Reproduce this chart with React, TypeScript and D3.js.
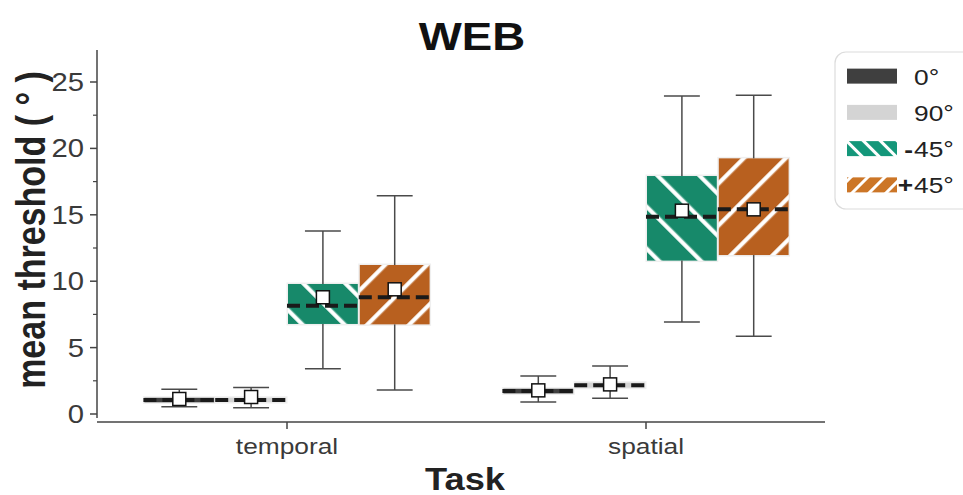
import React from 'react';
import * as d3 from 'd3';

// data
const tasks = ['temporal', 'spatial'];
const conditions = ['0°', '90°', '-45°', '+45°'];
const yTicks = [0, 5, 10, 15, 20, 25];
const yMinorTicks = [2.5, 7.5, 12.5, 17.5, 22.5];

// per task, per condition
const whiskerLow = [[0.55, 0.47, 3.41, 1.81], [0.9, 1.18, 6.93, 5.85]];
const q1 = [[0.88, 0.9, 6.78, 6.75], [1.55, 1.98, 11.55, 11.97]];
const medians = [[1.05, 1.05, 8.16, 8.79], [1.73, 2.16, 14.86, 15.41]];
const q3 = [[1.22, 1.22, 9.79, 11.22], [1.9, 2.36, 17.92, 19.25]];
const whiskerHigh = [[1.86, 2.0, 13.78, 16.44], [2.86, 3.61, 23.95, 24.0]];
const means = [[1.13, 1.28, 8.79, 9.39], [1.78, 2.23, 15.31, 15.41]];

const boxColors = ['#404040', '#d3d3d3', '#17896a', '#b8601f'];
const legendColors = ['#3f3f3f', '#d4d4d4', '#14977a', '#cc7627'];
const hatch = [null, null, -45, 45];

const SX = 1.17; // the picture is a bit wider than tall

export default function App() {
  const y = d3.scaleLinear().domain([0, 25]).range([414, 82]);
  const x = d3.scaleBand().domain(tasks).range([107.5, 825.5]);
  const inner = d3.scaleBand().domain(conditions)
    .range([x.bandwidth() * 0.1, x.bandwidth() * 0.9]);
  const bw = inner.bandwidth();

  const legendY = d3.scaleBand().domain(conditions).range([58, 203]);

  return (
    <svg width={963} height={495} style={{ position: 'absolute', left: 0, top: 0 }}
      fontFamily="'Liberation Sans', Arial, sans-serif">
      <defs>
        {hatch.map((angle, i) => angle === null ? null : (
          <pattern key={i} id={`hatch${i}`} patternUnits="userSpaceOnUse"
            width={29.7} height={29.7} patternTransform={`rotate(${angle})`}>
            <rect x={0} y={0} width={29.7} height={29.7} fill={boxColors[i]} />
            <rect x={12} y={0} width={4.2} height={29.7} fill="#fff" />
          </pattern>
        ))}
        {hatch.map((angle, i) => angle === null ? null : (
          <pattern key={'l' + i} id={`lhatch${i}`} patternUnits="userSpaceOnUse"
            width={12} height={12} patternTransform={`translate(2,0) rotate(${angle})`}>
            <rect x={0} y={0} width={12} height={12} fill={legendColors[i]} />
            <rect x={4} y={0} width={3} height={12} fill="#fff" />
          </pattern>
        ))}
      </defs>

      <rect width={963} height={495} fill="#fff" />

      {/* title */}
      <text transform={`translate(472,50) scale(${SX},1)`} textAnchor="middle"
        fontSize={39} fontWeight="bold" fill="#111">WEB</text>

      {/* y axis */}
      <line x1={97} x2={97} y1={50} y2={418} stroke="#444" strokeWidth={1.5} />
      {yTicks.map(t => (
        <g key={t}>
          <line x1={90} x2={97} y1={y(t)} y2={y(t)} stroke="#444" strokeWidth={1.5} />
          <text transform={`translate(84,${y(t) + 9}) scale(${SX},1)`} textAnchor="end"
            fontSize={25} fill="#3a3a3a">{t}</text>
        </g>
      ))}
      {yMinorTicks.map(t => (
        <line key={t} x1={93} x2={97} y1={y(t)} y2={y(t)} stroke="#444" strokeWidth={1.2} />
      ))}
      <text transform={`translate(45,${230}) scale(${SX},1) rotate(-90)`} textAnchor="middle"
        fontSize={34} fontWeight="bold" fill="#222">mean threshold ( ° )</text>

      {/* x axis */}
      <line x1={97} x2={825} y1={422} y2={422} stroke="#444" strokeWidth={1.5} />
      {tasks.map(t => {
        const cx = x(t)! + x.bandwidth() / 2;
        return (
          <g key={t}>
            <line x1={cx} x2={cx} y1={422} y2={429} stroke="#444" strokeWidth={1.5} />
            <text transform={`translate(${cx},454) scale(${SX},1)`} textAnchor="middle"
              fontSize={22.5} fill="#3a3a3a">{t}</text>
          </g>
        );
      })}
      <text transform={`translate(465,490) scale(${SX},1)`} textAnchor="middle"
        fontSize={31} fontWeight="bold" fill="#222">Task</text>

      {/* boxes */}
      {tasks.map((t, ti) => conditions.map((c, ci) => {
        const left = x(t)! + inner(c)!;
        const cx = left + bw / 2;
        const top = y(q3[ti][ci]);
        const bot = y(q1[ti][ci]);
        const fill = hatch[ci] === null ? boxColors[ci] : `url(#hatch${ci})`;
        return (
          <g key={t + c}>
            <rect x={left + 1} y={top} width={bw - 2} height={bot - top}
              fill={fill} stroke="#efefef" strokeWidth={3} paintOrder="stroke" />
            <line x1={cx} x2={cx} y1={top} y2={y(whiskerHigh[ti][ci])} stroke="#4a4a4a" strokeWidth={1.5} />
            <line x1={cx} x2={cx} y1={bot} y2={y(whiskerLow[ti][ci])} stroke="#4a4a4a" strokeWidth={1.5} />
            <line x1={cx - bw / 4} x2={cx + bw / 4} y1={y(whiskerHigh[ti][ci])} y2={y(whiskerHigh[ti][ci])}
              stroke="#4a4a4a" strokeWidth={1.5} />
            <line x1={cx - bw / 4} x2={cx + bw / 4} y1={y(whiskerLow[ti][ci])} y2={y(whiskerLow[ti][ci])}
              stroke="#4a4a4a" strokeWidth={1.5} />
            <line x1={left} x2={left + bw} y1={y(medians[ti][ci])} y2={y(medians[ti][ci])}
              stroke="#1a1a1a" strokeWidth={4} strokeDasharray="13 6" />
            <rect x={cx - 6.5} y={y(means[ti][ci]) - 6.5} width={13} height={13}
              fill="#fff" stroke="#111" strokeWidth={1.5} />
          </g>
        );
      }))}

      {/* legend */}
      <rect x={835} y={52} width={150} height={157} rx={11} fill="#fff" stroke="#dcdcdc" strokeWidth={1.2} />
      {conditions.map((c, ci) => {
        const cy = legendY(c)! + legendY.bandwidth() / 2;
        const sign = /^[-+]/.test(c) ? c[0] : '';
        const rest = sign ? c.slice(1) : c;
        return (
          <g key={c}>
            <rect x={847} y={cy - 7.5} width={50} height={15}
              fill={hatch[ci] === null ? legendColors[ci] : `url(#lhatch${ci})`} />
            {sign && (
              <text transform={`translate(913,${cy + 8.5}) scale(${SX},1)`} textAnchor="end"
                fontSize={22.5} fontWeight="bold" fill="#222">{sign}</text>
            )}
            <text transform={`translate(914,${cy + 8.5}) scale(${SX},1)`}
              fontSize={22.5} fill="#222">{rest}</text>
          </g>
        );
      })}
    </svg>
  );
}
